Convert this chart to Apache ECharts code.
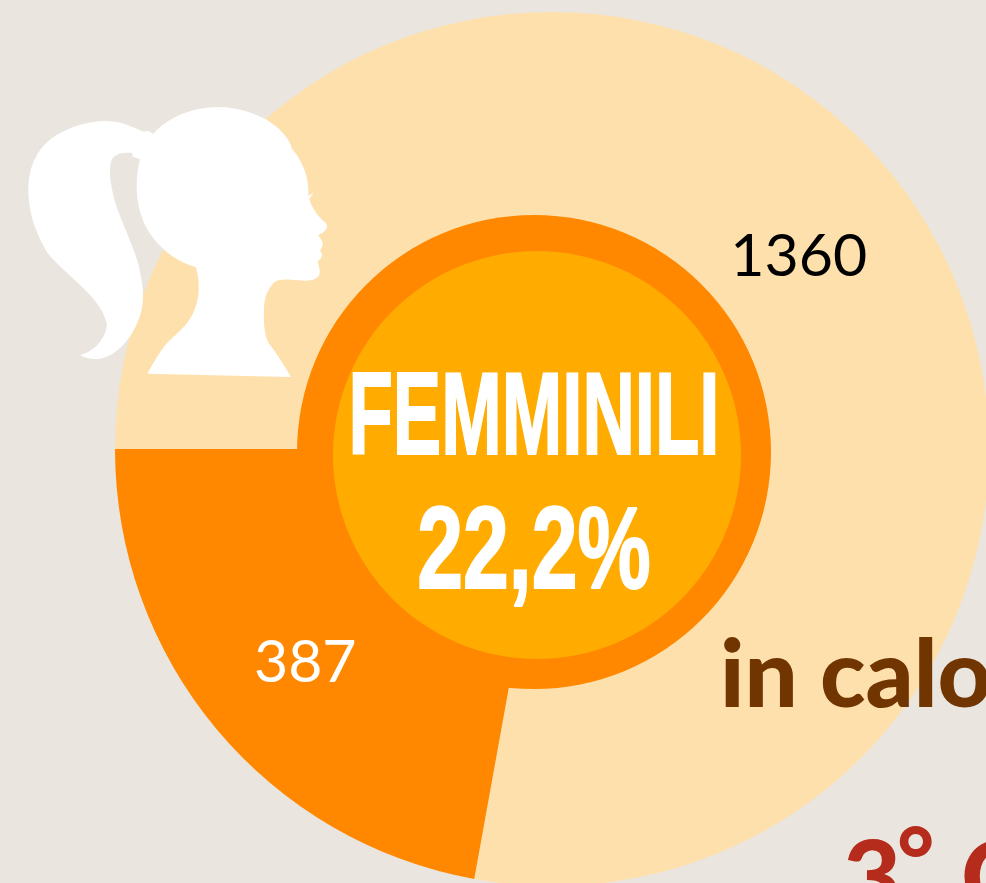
<!DOCTYPE html>
<html>
<head>
<meta charset="utf-8">
<script src="https://cdn.jsdelivr.net/npm/echarts@6/dist/echarts.min.js"></script>
<style>
html, body { margin: 0; padding: 0; background: #eae5df; overflow: hidden; }
#chart { width: 986px; height: 883px; }
</style>
</head>
<body>
<div id="chart"></div>
<script>
const categories = ['Altri', 'Femminili']
const values = [1360, 387]
const sliceColors = ['#fee0ac', '#ff8800']
const labelColors = ['#000000', '#ffffff']
const labelShift = [14, 8]
const titleText = 'FEMMINILI'
const shareText = '22,2%'
const noteText = 'in calo'
const rankText = ['3', '°', 'C']

// profile of the head
const headPath = 'M180 780C225 770 262 725 260 685C255 660 240 635 215 605C180 565 110 510 80 470C45 410 22 345 25 270C30 200 60 150 110 120C160 90 230 72 285 80C320 85 345 100 372 110L385 107L400 117C440 70 510 38 590 36C660 36 730 60 775 100C795 120 812 140 815 160C840 190 862 230 865 280L865 303L882 292L868 312C875 340 895 365 918 385C927 400 915 412 895 420C900 430 910 440 908 450C905 462 900 465 900 468C910 475 908 490 893 498C895 510 902 525 898 540C885 560 860 558 830 555C800 552 770 552 760 565C740 590 732 610 732 650C730 690 735 730 750 750C770 775 795 815 813 846L382 836C405 795 425 760 450 735C490 700 525 670 535 600C538 565 535 540 527 516C480 505 430 470 400 430C365 385 350 330 350 270C350 240 355 215 360 193L338 185L337 174C310 172 285 175 275 195C265 220 270 265 285 320C300 370 330 430 350 490C365 540 372 590 368 625C360 690 320 750 280 775C250 797 210 797 180 780Z'

echarts.graphic.registerShape('head', echarts.graphic.extendPath(headPath, {}))

const chart = echarts.init(document.getElementById('chart'), null, { renderer: 'canvas' })
chart.setOption({
  animation: false,
  backgroundColor: '#eae5df',
  tooltip: { show: false },
  series: [
    {
      type: 'pie',
      center: [552, 449],
      radius: [200, 437],
      startAngle: 180,
      clockwise: true,
      silent: true,
      labelLine: { show: false },
      data: categories.map((name, i) => ({
        name,
        value: values[i],
        itemStyle: { color: sliceColors[i] },
        label: {
          show: true,
          position: 'inside',
          formatter: '{c}',
          color: labelColors[i],
          fontFamily: 'Lato',
          fontSize: 59,
          offset: [0, labelShift[i]],
        },
      })),
    },
  ],
  graphic: [
    { type: 'circle', z: 10, shape: { cx: 534, cy: 452, r: 237 }, style: { fill: '#ff8800' } },
    { type: 'circle', z: 11, shape: { cx: 537, cy: 455, r: 204 }, style: { fill: '#ffab00' } },
    {
      type: 'text', z: 12, x: 534, y: 422, scaleX: 0.626,
      style: { text: titleText, fill: '#fff', stroke: '#fff', lineWidth: 2, font: 'bold 116px "Liberation Sans"', align: 'center', verticalAlign: 'middle' },
    },
    {
      type: 'text', z: 12, x: 534, y: 556, scaleX: 0.71,
      style: { text: shareText, fill: '#fff', stroke: '#fff', lineWidth: 2, font: 'bold 116px "Liberation Sans"', align: 'center', verticalAlign: 'middle' },
    },
    {
      type: 'text', z: 12, x: 720, y: 677, scaleX: 1,
      style: { text: noteText, fill: '#703500', font: '900 94px Lato', align: 'left', verticalAlign: 'middle' },
    },
    {
      type: 'text', z: 12, x: 843, y: 880,
      style: { text: rankText[0], fill: '#b52b1c', font: '900 100px Lato', align: 'left', verticalAlign: 'middle' },
    },
    {
      type: 'text', z: 12, x: 897, y: 863,
      style: { text: rankText[1], fill: '#b52b1c', font: '900 90px Lato', align: 'left', verticalAlign: 'middle' },
    },
    {
      type: 'text', z: 12, x: 961, y: 880,
      style: { text: rankText[2], fill: '#b52b1c', font: '900 100px Lato', align: 'left', verticalAlign: 'middle' },
    },
    {
      type: 'head', z: 13, x: 20, y: 95, scaleX: 1 / 3, scaleY: 1 / 3,
      style: { fill: '#fff' },
    },
  ],
})
</script>
</body>
</html>
